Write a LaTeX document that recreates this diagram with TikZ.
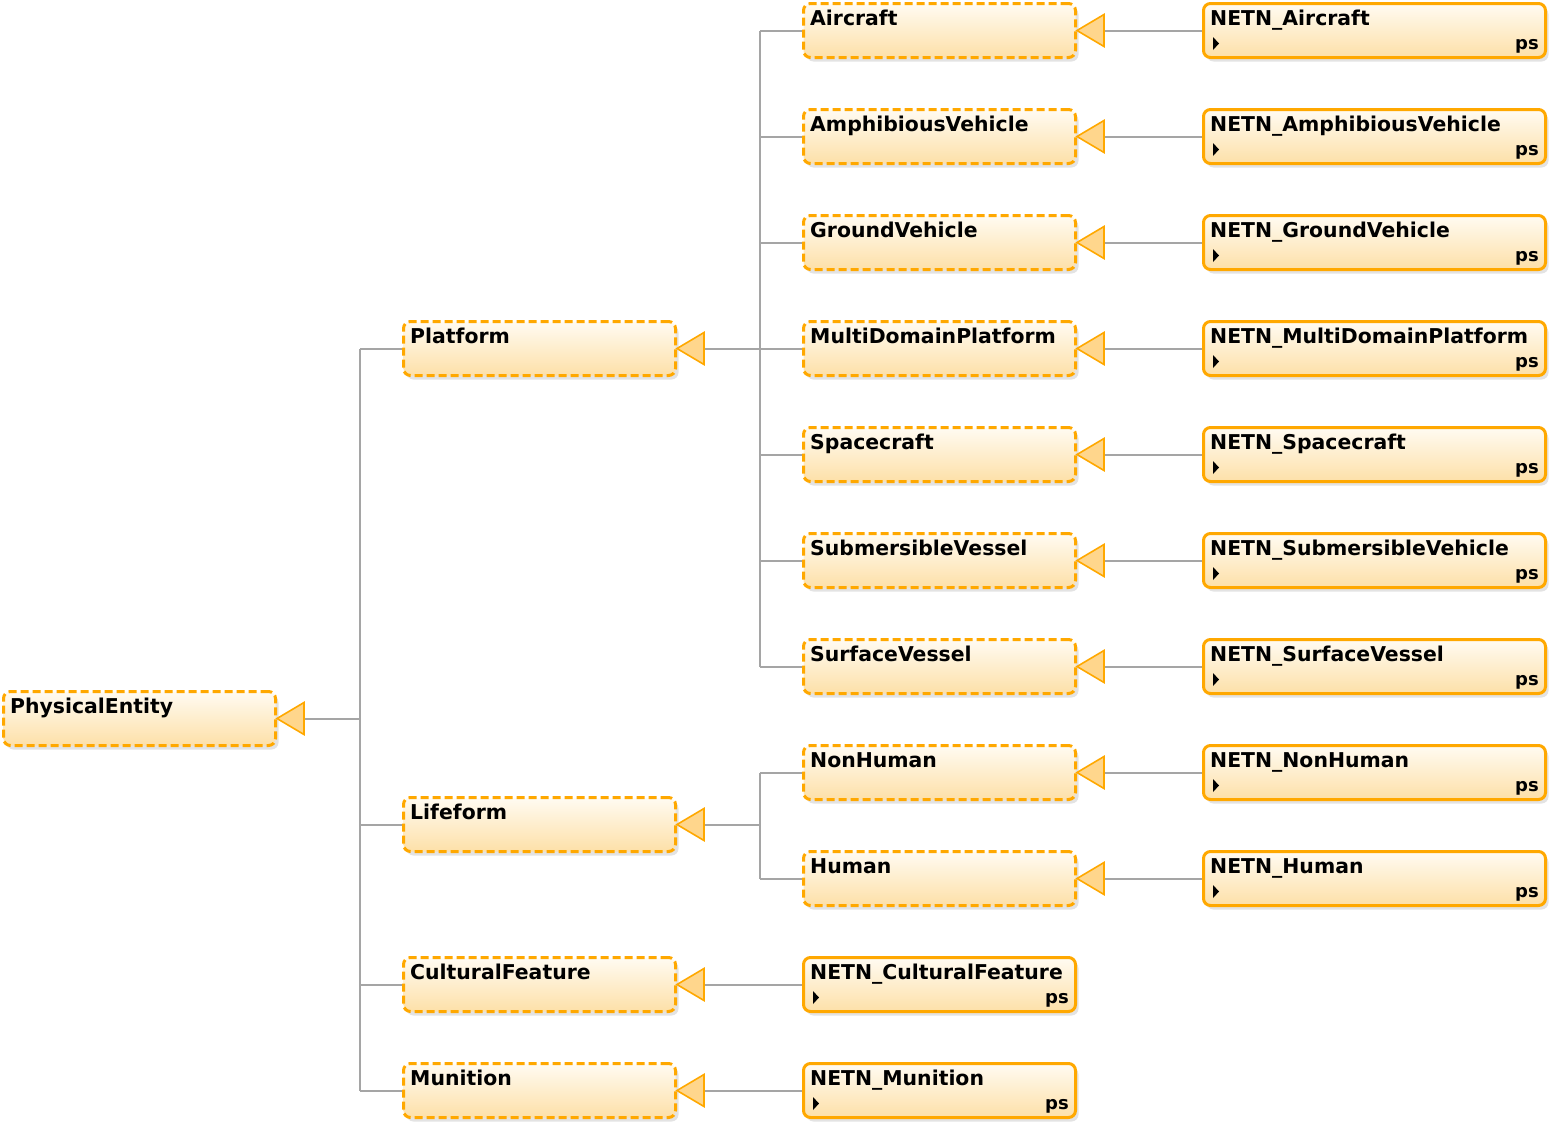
\documentclass[tikz,border=0pt]{standalone}
\usepackage{fontspec}
\setmainfont{DejaVu Sans}
\usetikzlibrary{calc,shadows}
\definecolor{orb}{RGB}{255,168,0}
\definecolor{trif}{RGB}{255,214,140}
\definecolor{connc}{RGB}{165,165,165}
\definecolor{ftop}{RGB}{255,251,242}
\definecolor{fbot}{RGB}{253,224,168}
\newcommand\gentri[1]{\draw[gen] (#1.east) -- ++(27,-16) -- ++(0,32) -- cycle; \coordinate (#1-b) at ($(#1.east)+(27,0)$);}
\newcommand\ttlof[2]{\node[ttl, anchor=base west] (#1-t) at ($(#1.north west)+(8,23)$) {#2};}
\newcommand\psof[1]{\fill ($(#1.north west)+(11,35)$) -- ++(6,6.5) -- ++(-6,6.5) -- cycle;
  \node[pstext, anchor=base east] (#1-ps) at ($(#1.north east)+(-8,47)$) {ps};}
\begin{document}
\begin{tikzpicture}[x=1pt,y=-1pt,
  cls/.style={draw=orb, line width=3pt, dash pattern=on 8pt off 4pt, rounded corners=7pt,
    top color=ftop, bottom color=fbot, minimum width=272pt, minimum height=54pt, inner sep=0pt,
    drop shadow={opacity=0.22, shadow xshift=3pt, shadow yshift=-4pt}},
  ncls/.style={cls, solid},
  wide/.style={minimum width=342pt},
  gen/.style={draw=orb, fill=trif, line width=1.6pt, line join=miter},
  conn/.style={draw=connc, line width=2pt},
  ttl/.style={font=\bfseries\fontsize{20.4}{24}\selectfont, inner sep=0pt},
  pstext/.style={font=\bfseries\fontsize{18}{20}\selectfont, inner sep=0pt}]
\useasboundingbox (0,0) rectangle (1558,1130);
% column 0
\node[cls] (pe) at (139.5,718.5) {};
% column 1
\node[cls] (plat) at (539.5,348.5) {};
\node[cls] (life) at (539.5,824.5) {};
\node[cls] (cult) at (539.5,984.5) {};
\node[cls] (mun) at (539.5,1090.5) {};
% column 2
\node[cls] (air) at (939.5,30.5) {};
\node[cls] (amph) at (939.5,136.5) {};
\node[cls] (grnd) at (939.5,242.5) {};
\node[cls] (multi) at (939.5,348.5) {};
\node[cls] (space) at (939.5,454.5) {};
\node[cls] (subm) at (939.5,560.5) {};
\node[cls] (surf) at (939.5,666.5) {};
\node[cls] (nonh) at (939.5,772.5) {};
\node[cls] (hum) at (939.5,878.5) {};
\node[ncls] (ncult) at (939.5,984.5) {};
\node[ncls] (nmun) at (939.5,1090.5) {};
% column 3
\node[ncls,wide] (nair) at (1374.5,30.5) {};
\node[ncls,wide] (namph) at (1374.5,136.5) {};
\node[ncls,wide] (ngrnd) at (1374.5,242.5) {};
\node[ncls,wide] (nmulti) at (1374.5,348.5) {};
\node[ncls,wide] (nspace) at (1374.5,454.5) {};
\node[ncls,wide] (nsubm) at (1374.5,560.5) {};
\node[ncls,wide] (nsurf) at (1374.5,666.5) {};
\node[ncls,wide] (nnonh) at (1374.5,772.5) {};
\node[ncls,wide] (nhum) at (1374.5,878.5) {};
% titles
\ttlof{pe}{PhysicalEntity}
\ttlof{plat}{Platform}
\ttlof{life}{Lifeform}
\ttlof{cult}{CulturalFeature}
\ttlof{mun}{Munition}
\ttlof{air}{Aircraft}
\ttlof{amph}{AmphibiousVehicle}
\ttlof{grnd}{GroundVehicle}
\ttlof{multi}{MultiDomainPlatform}
\ttlof{space}{Spacecraft}
\ttlof{subm}{SubmersibleVessel}
\ttlof{surf}{SurfaceVessel}
\ttlof{nonh}{NonHuman}
\ttlof{hum}{Human}
\ttlof{ncult}{NETN\_CulturalFeature}
\ttlof{nmun}{NETN\_Munition}
\ttlof{nair}{NETN\_Aircraft}
\ttlof{namph}{NETN\_AmphibiousVehicle}
\ttlof{ngrnd}{NETN\_GroundVehicle}
\ttlof{nmulti}{NETN\_MultiDomainPlatform}
\ttlof{nspace}{NETN\_Spacecraft}
\ttlof{nsubm}{NETN\_SubmersibleVehicle}
\ttlof{nsurf}{NETN\_SurfaceVessel}
\ttlof{nnonh}{NETN\_NonHuman}
\ttlof{nhum}{NETN\_Human}
\foreach \n in {ncult,nmun,nair,namph,ngrnd,nmulti,nspace,nsubm,nsurf,nnonh,nhum} {\psof{\n}}
% connectors: PhysicalEntity tree
\coordinate (pej) at (360,718.5);
\draw[conn] ($(pe.east)+(27,0)$) -- (pej);
\draw[conn] (pej |- plat.west) -- (pej |- mun.west);
\foreach \c in {plat,life,cult,mun} {\draw[conn] (pej |- \c.west) -- (\c.west);}
% Platform tree
\coordinate (platj) at (760,348.5);
\draw[conn] ($(plat.east)+(27,0)$) -- (platj);
\draw[conn] (platj |- air.west) -- (platj |- surf.west);
\foreach \c in {air,amph,grnd,multi,space,subm,surf} {\draw[conn] (platj |- \c.west) -- (\c.west);}
% Lifeform tree
\coordinate (lifej) at (760,824.5);
\draw[conn] ($(life.east)+(27,0)$) -- (lifej);
\draw[conn] (lifej |- nonh.west) -- (lifej |- hum.west);
\foreach \c in {nonh,hum} {\draw[conn] (lifej |- \c.west) -- (\c.west);}
% direct links
\draw[conn] ($(cult.east)+(27,0)$) -- (ncult.west);
\draw[conn] ($(mun.east)+(27,0)$) -- (nmun.west);
\draw[conn] ($(air.east)+(27,0)$) -- (nair.west);
\draw[conn] ($(amph.east)+(27,0)$) -- (namph.west);
\draw[conn] ($(grnd.east)+(27,0)$) -- (ngrnd.west);
\draw[conn] ($(multi.east)+(27,0)$) -- (nmulti.west);
\draw[conn] ($(space.east)+(27,0)$) -- (nspace.west);
\draw[conn] ($(subm.east)+(27,0)$) -- (nsubm.west);
\draw[conn] ($(surf.east)+(27,0)$) -- (nsurf.west);
\draw[conn] ($(nonh.east)+(27,0)$) -- (nnonh.west);
\draw[conn] ($(hum.east)+(27,0)$) -- (nhum.west);
% generalization triangles
\foreach \n in {pe,plat,life,cult,mun,air,amph,grnd,multi,space,subm,surf,nonh,hum} {\gentri{\n}}
\end{tikzpicture}
\end{document}
